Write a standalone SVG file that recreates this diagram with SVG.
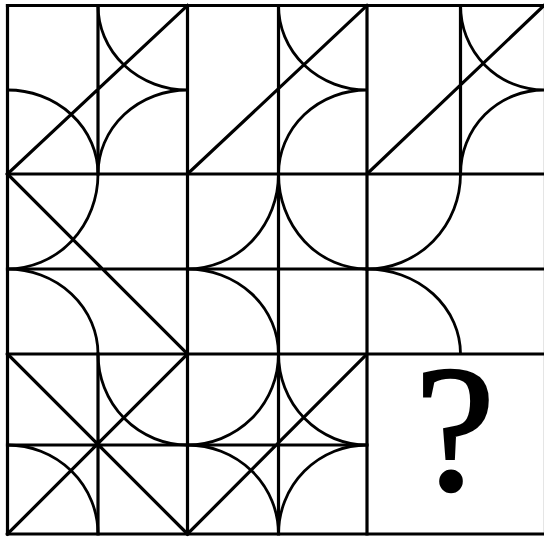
<svg xmlns="http://www.w3.org/2000/svg" width="544" height="538" viewBox="0 0 544 538">
<style>
.ln{stroke:#000;stroke-width:3.2;fill:none;stroke-linecap:square}
.arc{stroke:#000;stroke-width:2.8;fill:none}
.q{font-family:"Liberation Serif","Times New Roman",serif;font-size:180px;fill:#000;stroke:#000;stroke-width:2.5}
</style>
<rect width="544" height="538" fill="#fff"/>
<g id="grid" class="ln">
<path d="M7.5,5.5H546M7.5,174H546M7.5,354H546M7.5,534H546"/>
<path d="M7.5,5.5V534M187.5,5.5V534M367,5.5V534M545.5,5.5V534"/>
</g>
<g id="cell-r1c1">
<path class="ln" d="M98,5.5V174M7.5,174L187.5,5.5"/>
<path class="arc" d="M98,5.5A89.5,84.5 0 0,0 187.5,90M98,174A89.5,84 0 0,1 187.5,90M7.5,90A90.5,84 0 0,1 98,174"/>
</g>
<g id="cell-r1c2">
<path class="ln" d="M278.5,5.5V174M187.5,174L367,5.5"/>
<path class="arc" d="M278.5,5.5A88.5,84.5 0 0,0 367,90M278.5,174A88.5,84 0 0,1 367,90"/>
</g>
<g id="cell-r1c3">
<path class="ln" d="M460.5,5.5V174M367,174L544,5.5"/>
<path class="arc" d="M460.5,5.5A83.5,84.5 0 0,0 544,90M460.5,174A83.5,84 0 0,1 544,90"/>
</g>
<g id="cell-r2c1">
<path class="ln" d="M7.5,269H187.5M7.5,174L187.5,354"/>
<path class="arc" d="M98,174A90.5,95 0 0,1 7.5,269M7.5,269A90.5,85 0 0,1 98,354"/>
</g>
<g id="cell-r2c2">
<path class="ln" d="M187.5,269H367M278.5,174V354"/>
<path class="arc" d="M278.5,174A91,95 0 0,1 187.5,269M278.5,174A88.5,95 0 0,0 367,269M187.5,269A91,85 0 0,1 278.5,354"/>
</g>
<g id="cell-r2c3">
<path class="ln" d="M367,269H546"/>
<path class="arc" d="M460.5,174A93.5,95 0 0,1 367,269M367,269A93.5,85 0 0,1 460.5,354"/>
</g>
<g id="cell-r3c1">
<path class="ln" d="M98,354V534M7.5,445H187.5M7.5,354L187.5,534M7.5,534L187.5,354"/>
<path class="arc" d="M98,354A89.5,91 0 0,0 187.5,445M7.5,445A90.5,89 0 0,1 98,534"/>
</g>
<g id="cell-r3c2">
<path class="ln" d="M278.5,354V534M187.5,445H367M187.5,534L367,354"/>
<path class="arc" d="M278.5,354A91,91 0 0,1 187.5,445M278.5,354A88.5,91 0 0,0 367,445M187.5,445A91,89 0 0,1 278.5,534M278.5,534A88.5,89 0 0,1 367,445"/>
</g>
<g id="cell-r3c3">
<text class="q" x="455" y="489" text-anchor="middle">?</text>
</g>
</svg>
